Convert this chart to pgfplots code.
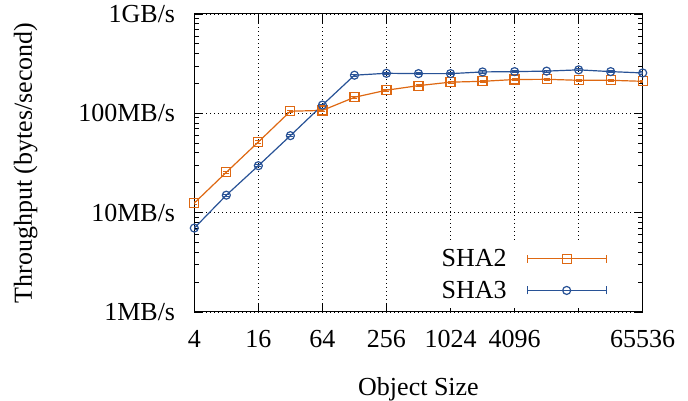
\documentclass[border=0pt]{standalone}
\usepackage{fontspec}
\setmainfont{Liberation Serif}
\usepackage{pgfplots}
\pgfplotsset{compat=1.18}
\definecolor{sha2}{RGB}{222,104,18}
\definecolor{sha3}{RGB}{40,82,150}
\newcommand\fs{\fontsize{26}{30}\selectfont}
\begin{document}
\begin{tikzpicture}
\useasboundingbox (0,0) rectangle (688pt,400pt);
\begin{axis}[
  at={(194.3pt,88pt)}, anchor=south west,
  scale only axis, width=448.4pt, height=298pt,
  xmode=log, ymode=log, log basis x=2, log basis y=10,
  xmin=4, xmax=65536, ymin=1e6, ymax=1e9,
  xtick={4,16,64,256,1024,4096,16384,65536},
  xticklabels={4,16,64,256,1024,4096,,65536},
  ytick={1e6,1e7,1e8,1e9},
  yticklabels={1MB/s,10MB/s,100MB/s,1GB/s},
  minor ytick={2e6,3e6,4e6,5e6,6e6,7e6,8e6,9e6,2e7,3e7,4e7,5e7,6e7,7e7,8e7,9e7,2e8,3e8,4e8,5e8,6e8,7e8,8e8,9e8},
  xminorticks=false,
  tick align=inside, major tick length=9pt, minor tick length=4.5pt,
  tick style={black, line width=0.8pt},
  grid=major, major grid style={black, dash pattern=on 1pt off 3pt, line width=0.8pt},
  axis line style={line width=1pt},
  tick label style={font=\fs},
  yticklabel style={inner sep=0pt, xshift=-19pt},
  xticklabel style={inner sep=0pt, yshift=-18pt},
  xlabel={Object Size}, ylabel={Throughput (bytes/second)},
  every axis x label/.style={at={(axis description cs:0.5,0)}, anchor=north, inner sep=0pt, yshift=-65pt, font=\fs},
  every axis y label/.style={at={(axis description cs:-0.362,0.5)}, anchor=base, rotate=90, inner sep=0pt, font=\fs},
  legend plot pos=right, legend cell align=right,
  legend style={at={(0.9315,0.0134)}, anchor=south east, fill=white, draw=none,
    inner xsep=5pt, inner ysep=8pt, row sep=13pt, column sep=20pt, font=\fs,
    nodes={inner sep=0pt}},
  legend image code/.code={
    \draw[#1, mark=none] (0pt,0pt) -- (79pt,0pt);
    \draw[#1, mark=none] (0pt,-4pt) -- (0pt,4pt) (79pt,-4pt) -- (79pt,4pt);
    \draw[#1] plot coordinates {(39.5pt,0pt)};
  },
]
\addplot[sha2, line width=1.2pt, mark=square, mark size=4.5pt,
  error bars/.cd, y dir=both, y explicit relative,
  error bar style={line width=1pt}, error mark options={rotate=90, mark size=3pt, line width=1pt}]
  coordinates {
  (4,12.5e6) +- (0,0.025)
  (8,25.5e6) +- (0,0.025)
  (16,51.5e6) +- (0,0.025)
  (32,105e6) +- (0,0.025)
  (64,107e6) +- (0,0.025)
  (128,145e6) +- (0,0.025)
  (256,171e6) +- (0,0.025)
  (512,190e6) +- (0,0.025)
  (1024,206e6) +- (0,0.025)
  (2048,210e6) +- (0,0.025)
  (4096,219e6) +- (0,0.025)
  (8192,220e6) +- (0,0.025)
  (16384,215e6) +- (0,0.025)
  (32768,215e6) +- (0,0.025)
  (65536,210e6) +- (0,0.025)
  };
\addlegendentry{SHA2}
\addplot[sha3, line width=1.2pt, mark=o, mark size=4pt,
  error bars/.cd, y dir=both, y explicit relative,
  error bar style={line width=1pt}, error mark options={rotate=90, mark size=3pt, line width=1pt}]
  coordinates {
  (4,7.0e6) +- (0,0.025)
  (8,15.0e6) +- (0,0.025)
  (16,29.7e6) +- (0,0.025)
  (32,59.6e6) +- (0,0.025)
  (64,121e6) +- (0,0.025)
  (128,242e6) +- (0,0.025)
  (256,253e6) +- (0,0.025)
  (512,251e6) +- (0,0.025)
  (1024,251e6) +- (0,0.025)
  (2048,261e6) +- (0,0.025)
  (4096,263e6) +- (0,0.025)
  (8192,266e6) +- (0,0.025)
  (16384,274e6) +- (0,0.025)
  (32768,263e6) +- (0,0.025)
  (65536,255e6) +- (0,0.025)
  };
\addlegendentry{SHA3}
\end{axis}
\end{tikzpicture}
\end{document}
